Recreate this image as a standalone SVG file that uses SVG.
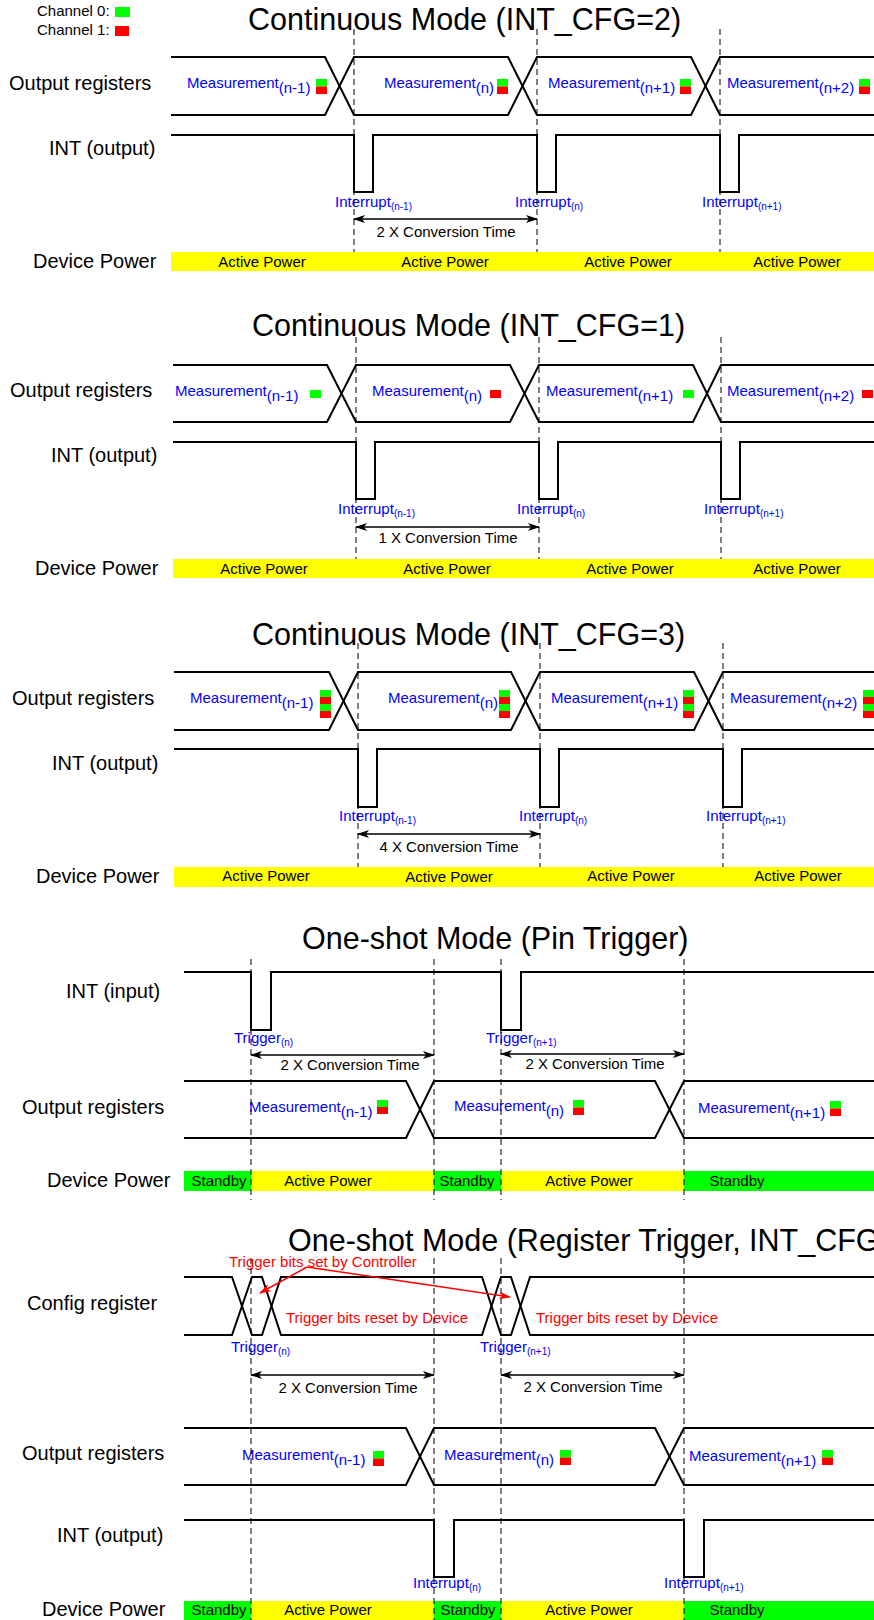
<svg xmlns="http://www.w3.org/2000/svg" width="874" height="1620" viewBox="0 0 874 1620">
<style>
text{font-family:"Liberation Sans",Arial,sans-serif}
.lbl{font-size:20px;fill:#000}
.ttl{font-size:30.5px;fill:#000}
.m{font-size:15px;fill:#0000ff}
.s{font-size:10px}
.k{font-size:15px;fill:#000}
.r{font-size:15px;fill:#ff0000}
.mid{text-anchor:middle}
.sig{fill:none;stroke:#000;stroke-width:2}
.dash{fill:none;stroke:#000;stroke-width:1;stroke-dasharray:6,4}
.dim{fill:none;stroke:#000;stroke-width:1.5;marker-start:url(#ah);marker-end:url(#ah)}
.rar{fill:none;stroke:#ff0000;stroke-width:1.5;marker-end:url(#ahr)}
.g{fill:#00ff00}
.rd{fill:#ff0000}
.y{fill:#ffff00}
</style>
<defs>
<marker id="ah" viewBox="0 0 12 8" refX="11" refY="4" markerWidth="12" markerHeight="8" markerUnits="userSpaceOnUse" orient="auto-start-reverse"><path d="M0,0 L12,4 L0,8 L3,4 z" fill="#000"/></marker>
<marker id="ahr" viewBox="0 0 12 8" refX="11" refY="4" markerWidth="12" markerHeight="8" markerUnits="userSpaceOnUse" orient="auto"><path d="M0,0 L12,4 L0,8 L3,4 z" fill="#ff0000"/></marker>
</defs>
<rect width="874" height="1620" fill="#fff"/>

<g id="legend">
<text class="k" x="37" y="16">Channel 0:</text><rect class="g" x="115" y="7" width="15" height="10"/>
<text class="k" x="37" y="35">Channel 1:</text><rect class="rd" x="115" y="26" width="14" height="10"/>
</g>

<!-- Section 1 -->
<g id="s1">
<text class="ttl" x="248" y="30">Continuous Mode (INT_CFG=2)</text>
<g id="s1-out">
<text class="lbl" x="9" y="90">Output registers</text>
<path class="sig" d="M171,57 H325 L354,115 H508 L537,57 H691 L720,115 H874"/>
<path class="sig" d="M171,115 H325 L354,57 H508 L537,115 H691 L720,57 H874"/>
<text class="m" x="187" y="88">Measurement<tspan dy="5">(n-1)</tspan></text>
<rect class="g" x="316" y="79" width="11" height="7.5"/><rect class="rd" x="316" y="86.5" width="11" height="7.5"/>
<text class="m" x="384" y="88">Measurement<tspan dy="5">(n)</tspan></text>
<rect class="g" x="497" y="79" width="11" height="7.5"/><rect class="rd" x="497" y="86.5" width="11" height="7.5"/>
<text class="m" x="548" y="88">Measurement<tspan dy="5">(n+1)</tspan></text>
<rect class="g" x="680" y="79" width="11" height="7.5"/><rect class="rd" x="680" y="86.5" width="11" height="7.5"/>
<text class="m" x="727" y="88">Measurement<tspan dy="5">(n+2)</tspan></text>
<rect class="g" x="859" y="79" width="11" height="7.5"/><rect class="rd" x="859" y="86.5" width="11" height="7.5"/>
</g>
<g id="s1-int">
<text class="lbl" x="49" y="155">INT (output)</text>
<path class="sig" d="M171,135 H354 V192 H373 V135 H537 V192 H556 V135 H720 V192 H739 V135 H874"/>
<text class="m" x="335" y="207">Interrupt<tspan class="s" dy="3">(n-1)</tspan></text>
<text class="m" x="515" y="207">Interrupt<tspan class="s" dy="3">(n)</tspan></text>
<text class="m" x="702" y="207">Interrupt<tspan class="s" dy="3">(n+1)</tspan></text>
</g>
<g id="s1-pwr">
<text class="lbl" x="33" y="268">Device Power</text>
<rect class="y" x="171" y="252" width="703" height="19"/>
<text class="k mid" x="262" y="267">Active Power</text>
<text class="k mid" x="445" y="267">Active Power</text>
<text class="k mid" x="628" y="267">Active Power</text>
<text class="k mid" x="797" y="267">Active Power</text>
</g>
<text class="k mid" x="446" y="237">2 X Conversion Time</text>
</g>

<!-- Section 2 -->
<g id="s2">
<text class="ttl" x="252" y="336">Continuous Mode (INT_CFG=1)</text>
<g id="s2-out">
<text class="lbl" x="10" y="397">Output registers</text>
<path class="sig" d="M173,365 H327 L356,422 H510 L539,365 H693 L721,422 H874"/>
<path class="sig" d="M173,422 H327 L356,365 H510 L539,422 H693 L721,365 H874"/>
<text class="m" x="175" y="396">Measurement<tspan dy="5">(n-1)</tspan></text>
<rect class="g" x="310" y="390" width="11" height="8"/>
<text class="m" x="372" y="396">Measurement<tspan dy="5">(n)</tspan></text>
<rect class="rd" x="490" y="390" width="11" height="8"/>
<text class="m" x="546" y="396">Measurement<tspan dy="5">(n+1)</tspan></text>
<rect class="g" x="683" y="390" width="11" height="8"/>
<text class="m" x="727" y="396">Measurement<tspan dy="5">(n+2)</tspan></text>
<rect class="rd" x="862" y="390" width="11" height="8"/>
</g>
<g id="s2-int">
<text class="lbl" x="51" y="462">INT (output)</text>
<path class="sig" d="M173,442 H356 V499 H375 V442 H539 V499 H558 V442 H721 V499 H740 V442 H874"/>
<text class="m" x="338" y="514">Interrupt<tspan class="s" dy="3">(n-1)</tspan></text>
<text class="m" x="517" y="514">Interrupt<tspan class="s" dy="3">(n)</tspan></text>
<text class="m" x="704" y="514">Interrupt<tspan class="s" dy="3">(n+1)</tspan></text>
</g>
<g id="s2-pwr">
<text class="lbl" x="35" y="575">Device Power</text>
<rect class="y" x="173" y="559" width="701" height="19"/>
<text class="k mid" x="264" y="574">Active Power</text>
<text class="k mid" x="447" y="574">Active Power</text>
<text class="k mid" x="630" y="574">Active Power</text>
<text class="k mid" x="797" y="574">Active Power</text>
</g>
<text class="k mid" x="448" y="543">1 X Conversion Time</text>
</g>

<!-- Section 3 -->
<g id="s3">
<text class="ttl" x="252" y="645">Continuous Mode (INT_CFG=3)</text>
<g id="s3-out">
<text class="lbl" x="12" y="705">Output registers</text>
<path class="sig" d="M174,672 H329 L358,730 H511 L540,672 H694 L723,730 H874"/>
<path class="sig" d="M174,730 H329 L358,672 H511 L540,730 H694 L723,672 H874"/>
<text class="m" x="190" y="703">Measurement<tspan dy="5">(n-1)</tspan></text>
<rect class="g" x="320" y="690" width="11" height="7"/><rect class="rd" x="320" y="697" width="11" height="7"/><rect class="g" x="320" y="704" width="11" height="7"/><rect class="rd" x="320" y="711" width="11" height="7"/>
<text class="m" x="388" y="703">Measurement<tspan dy="5">(n)</tspan></text>
<rect class="g" x="499" y="690" width="11" height="7"/><rect class="rd" x="499" y="697" width="11" height="7"/><rect class="g" x="499" y="704" width="11" height="7"/><rect class="rd" x="499" y="711" width="11" height="7"/>
<text class="m" x="551" y="703">Measurement<tspan dy="5">(n+1)</tspan></text>
<rect class="g" x="683" y="690" width="11" height="7"/><rect class="rd" x="683" y="697" width="11" height="7"/><rect class="g" x="683" y="704" width="11" height="7"/><rect class="rd" x="683" y="711" width="11" height="7"/>
<text class="m" x="730" y="703">Measurement<tspan dy="5">(n+2)</tspan></text>
<rect class="g" x="863" y="690" width="11" height="7"/><rect class="rd" x="863" y="697" width="11" height="7"/><rect class="g" x="863" y="704" width="11" height="7"/><rect class="rd" x="863" y="711" width="11" height="7"/>
</g>
<g id="s3-int">
<text class="lbl" x="52" y="770">INT (output)</text>
<path class="sig" d="M174,749 H358 V807 H377 V749 H540 V807 H559 V749 H723 V807 H742 V749 H874"/>
<text class="m" x="339" y="821">Interrupt<tspan class="s" dy="3">(n-1)</tspan></text>
<text class="m" x="519" y="821">Interrupt<tspan class="s" dy="3">(n)</tspan></text>
<text class="m" x="706" y="821">Interrupt<tspan class="s" dy="3">(n+1)</tspan></text>
</g>
<g id="s3-pwr">
<text class="lbl" x="36" y="883">Device Power</text>
<rect class="y" x="174" y="867" width="700" height="20"/>
<text class="k mid" x="266" y="881">Active Power</text>
<text class="k mid" x="449" y="882">Active Power</text>
<text class="k mid" x="631" y="881">Active Power</text>
<text class="k mid" x="798" y="881">Active Power</text>
</g>
<text class="k mid" x="449" y="852">4 X Conversion Time</text>
</g>

<!-- Section 4 -->
<g id="s4">
<text class="ttl" x="302" y="949">One-shot Mode (Pin Trigger)</text>
<g id="s4-int">
<text class="lbl" x="66" y="998">INT (input)</text>
<path class="sig" d="M184,972 H251 V1030 H271 V972 H501 V1030 H521 V972 H874"/>
<text class="m" x="234" y="1043">Trigger<tspan class="s" dy="3">(n)</tspan></text>
<text class="m" x="486" y="1043">Trigger<tspan class="s" dy="3">(n+1)</tspan></text>
</g>
<g id="s4-out">
<text class="lbl" x="22" y="1114">Output registers</text>
<path class="sig" d="M184,1081 H406 L434,1138 H655 L684,1081 H874"/>
<path class="sig" d="M184,1138 H406 L434,1081 H655 L684,1138 H874"/>
<text class="m" x="249" y="1112">Measurement<tspan dy="5">(n-1)</tspan></text>
<rect class="g" x="377" y="1100" width="11" height="7"/><rect class="rd" x="377" y="1107" width="11" height="7"/>
<text class="m" x="454" y="1111">Measurement<tspan dy="5">(n)</tspan></text>
<rect class="g" x="573" y="1100" width="11" height="7.5"/><rect class="rd" x="573" y="1107.5" width="11" height="7.5"/>
<text class="m" x="698" y="1113">Measurement<tspan dy="5">(n+1)</tspan></text>
<rect class="g" x="830" y="1101" width="11" height="7.5"/><rect class="rd" x="830" y="1108.5" width="11" height="7.5"/>
</g>
<g id="s4-pwr">
<text class="lbl" x="47" y="1187">Device Power</text>
<rect class="g" x="184" y="1171" width="67" height="20"/>
<rect class="y" x="251" y="1171" width="183" height="20"/>
<rect class="g" x="434" y="1171" width="67" height="20"/>
<rect class="y" x="501" y="1171" width="183" height="20"/>
<rect class="g" x="684" y="1171" width="190" height="20"/>
<text class="k mid" x="219" y="1186">Standby</text>
<text class="k mid" x="328" y="1186">Active Power</text>
<text class="k mid" x="467" y="1186">Standby</text>
<text class="k mid" x="589" y="1186">Active Power</text>
<text class="k mid" x="737" y="1186">Standby</text>
</g>
<text class="k mid" x="350" y="1070">2 X Conversion Time</text>
<text class="k mid" x="595" y="1069">2 X Conversion Time</text>
</g>

<!-- Section 5 -->
<g id="s5">
<text class="ttl" x="288" y="1251">One-shot Mode (Register Trigger, INT_CFG</text>
<g id="s5-cfg">
<text class="lbl" x="27" y="1310">Config register</text>
<path class="sig" d="M184,1277 H232 L252,1335 H262 L281,1277 H482 L501,1335 H511 L530,1277 H874"/>
<path class="sig" d="M184,1335 H232 L252,1277 H262 L281,1335 H482 L501,1277 H511 L530,1335 H874"/>
<text class="r" x="229" y="1267">Trigger bits set by Controller</text>
<text class="r" x="286" y="1323">Trigger bits reset by Device</text>
<text class="r" x="536" y="1323">Trigger bits reset by Device</text>
<text class="m" x="231" y="1352">Trigger<tspan class="s" dy="3">(n)</tspan></text>
<text class="m" x="480" y="1352">Trigger<tspan class="s" dy="3">(n+1)</tspan></text>
</g>
<g id="s5-out">
<text class="lbl" x="22" y="1460">Output registers</text>
<path class="sig" d="M184,1428 H406 L434,1485 H655 L684,1428 H874"/>
<path class="sig" d="M184,1485 H406 L434,1428 H655 L684,1485 H874"/>
<text class="m" x="242" y="1460">Measurement<tspan dy="5">(n-1)</tspan></text>
<rect class="g" x="373" y="1451" width="11" height="7.5"/><rect class="rd" x="373" y="1458.5" width="11" height="7.5"/>
<text class="m" x="444" y="1460">Measurement<tspan dy="5">(n)</tspan></text>
<rect class="g" x="560" y="1450" width="11" height="7.5"/><rect class="rd" x="560" y="1457.5" width="11" height="7.5"/>
<text class="m" x="689" y="1461">Measurement<tspan dy="5">(n+1)</tspan></text>
<rect class="g" x="822" y="1450" width="11" height="7.5"/><rect class="rd" x="822" y="1457.5" width="11" height="7.5"/>
</g>
<g id="s5-int">
<text class="lbl" x="57" y="1542">INT (output)</text>
<path class="sig" d="M184,1520 H434 V1577 H454 V1520 H684 V1577 H704 V1520 H874"/>
<text class="m" x="413" y="1588">Interrupt<tspan class="s" dy="3">(n)</tspan></text>
<text class="m" x="664" y="1588">Interrupt<tspan class="s" dy="3">(n+1)</tspan></text>
</g>
<g id="s5-pwr">
<text class="lbl" x="42" y="1616">Device Power</text>
<rect class="g" x="184" y="1601" width="67" height="19"/>
<rect class="y" x="251" y="1601" width="183" height="19"/>
<rect class="g" x="434" y="1601" width="67" height="19"/>
<rect class="y" x="501" y="1601" width="183" height="19"/>
<rect class="g" x="684" y="1601" width="190" height="19"/>
<text class="k mid" x="219" y="1615">Standby</text>
<text class="k mid" x="328" y="1615">Active Power</text>
<text class="k mid" x="468" y="1615">Standby</text>
<text class="k mid" x="589" y="1615">Active Power</text>
<text class="k mid" x="737" y="1615">Standby</text>
</g>
<text class="k mid" x="348" y="1393">2 X Conversion Time</text>
<text class="k mid" x="593" y="1392">2 X Conversion Time</text>
</g>

<g id="connectors">
<line class="dash" x1="354" y1="29" x2="354" y2="252"/>
<line class="dash" x1="537" y1="29" x2="537" y2="252"/>
<line class="dash" x1="720" y1="29" x2="720" y2="252"/>
<line class="dim" x1="354" y1="219" x2="537" y2="219"/>
<line class="dash" x1="356" y1="337" x2="356" y2="559"/>
<line class="dash" x1="539" y1="337" x2="539" y2="559"/>
<line class="dash" x1="721" y1="337" x2="721" y2="559"/>
<line class="dim" x1="356" y1="527" x2="539" y2="527"/>
<line class="dash" x1="358" y1="643" x2="358" y2="867"/>
<line class="dash" x1="540" y1="643" x2="540" y2="867"/>
<line class="dash" x1="723" y1="643" x2="723" y2="867"/>
<line class="dim" x1="358" y1="834" x2="540" y2="834"/>
<line class="dash" x1="251" y1="959" x2="251" y2="1200"/>
<line class="dash" x1="434" y1="959" x2="434" y2="1200"/>
<line class="dash" x1="501" y1="959" x2="501" y2="1200"/>
<line class="dash" x1="684" y1="959" x2="684" y2="1200"/>
<line class="dim" x1="251" y1="1055" x2="434" y2="1055"/>
<line class="dim" x1="501" y1="1054" x2="684" y2="1054"/>
<line class="dash" x1="251" y1="1258" x2="251" y2="1620"/>
<line class="dash" x1="434" y1="1258" x2="434" y2="1620"/>
<line class="dash" x1="501" y1="1258" x2="501" y2="1620"/>
<line class="dash" x1="684" y1="1258" x2="684" y2="1620"/>
<line class="dim" x1="251" y1="1375" x2="434" y2="1375"/>
<line class="dim" x1="501" y1="1375" x2="684" y2="1375"/>
<line class="rar" x1="307" y1="1267" x2="260" y2="1293"/>
<line class="rar" x1="307" y1="1267" x2="510" y2="1297"/>
</g>
</svg>
